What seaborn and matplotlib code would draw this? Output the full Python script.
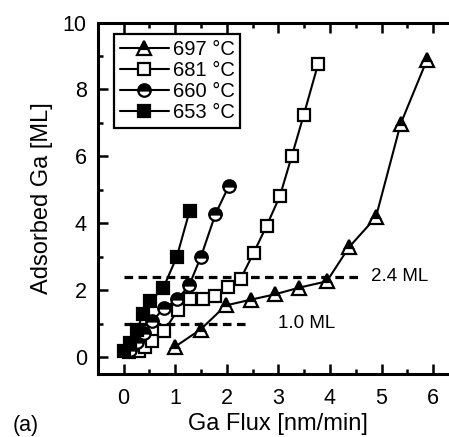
import matplotlib
matplotlib.use("Agg")
import matplotlib.pyplot as plt
from matplotlib.ticker import MultipleLocator
import seaborn as sns
import pandas as pd

# Adsorbed Ga coverage versus Ga flux at four substrate temperatures
labels = ["697 °C", "681 °C", "660 °C", "653 °C"]

flux_697 = [1.00, 1.49, 1.98, 2.46, 2.93, 3.40, 3.94, 4.37, 4.89, 5.37, 5.88]
ga_697 = [0.32, 0.83, 1.55, 1.72, 1.88, 2.08, 2.27, 3.29, 4.18, 6.97, 8.88]

flux_681 = [0.10, 0.30, 0.42, 0.55, 0.78, 1.05, 1.28, 1.54, 1.78, 2.02,
            2.27, 2.52, 2.77, 3.03, 3.26, 3.49, 3.77]
ga_681 = [0.15, 0.18, 0.30, 0.49, 0.78, 1.41, 1.73, 1.73, 1.83, 2.10,
          2.35, 3.12, 3.92, 4.82, 6.01, 7.23, 8.76]

flux_660 = [0.12, 0.25, 0.40, 0.55, 0.78, 1.04, 1.27, 1.50, 1.78, 2.04]
ga_660 = [0.22, 0.45, 0.72, 1.08, 1.46, 1.73, 2.15, 3.01, 4.28, 5.12]

flux_653 = [0.00, 0.12, 0.25, 0.38, 0.52, 0.77, 1.03, 1.28]
ga_653 = [0.18, 0.42, 0.82, 1.28, 1.68, 2.08, 3.00, 4.38]

# Horizontal reference levels (ML) and where their dashed lines end
ref_levels = [2.4, 1.0]
ref_ends = [4.55, 2.35]
ref_labels = ["2.4 ML", "1.0 ML"]
ref_label_x = [4.8, 3.0]

sns.set_style("ticks")
plt.rcParams["font.family"] = ["Liberation Sans", "DejaVu Sans"]
plt.rcParams["text.color"] = "black"
plt.rcParams["axes.labelcolor"] = "black"
plt.rcParams["xtick.color"] = "black"
plt.rcParams["ytick.color"] = "black"

fig = plt.figure(figsize=(4.49, 4.37), dpi=100)
ax = fig.add_axes([0.218, 0.144, 0.804, 0.8045])

styles = {
    "697 °C": dict(marker="^", ms=10, fillstyle="top", z=5),
    "681 °C": dict(marker="s", ms=8.5, fillstyle="none", z=3),
    "660 °C": dict(marker="o", ms=9, fillstyle="top", z=4),
    "653 °C": dict(marker="s", ms=8.5, fillstyle="full", z=6),
}
series = {
    "697 °C": (flux_697, ga_697),
    "681 °C": (flux_681, ga_681),
    "660 °C": (flux_660, ga_660),
    "653 °C": (flux_653, ga_653),
}

for lab in labels:
    x, y = series[lab]
    st = styles[lab]
    df = pd.DataFrame({"flux": x, "ga": y})
    kw = dict(marker=st["marker"], markersize=st["ms"], markeredgecolor="black",
              markeredgewidth=1.6, linewidth=1.5, color="black",
              zorder=st["z"], label=lab)
    if st["fillstyle"] == "top":
        kw.update(fillstyle="top", markerfacecolor="black", markerfacecoloralt="white")
    elif st["fillstyle"] == "none":
        kw.update(markerfacecolor="white")
    else:
        kw.update(markerfacecolor="black")
    sns.lineplot(data=df, x="flux", y="ga", ax=ax, sort=False, estimator=None, **kw)

for lvl, xe, txt, tx in zip(ref_levels, ref_ends, ref_labels, ref_label_x):
    ax.plot([0, xe], [lvl, lvl], color="black", linewidth=2.3,
            dashes=(2.7, 1.7), zorder=2)
    ax.text(tx, lvl, txt, fontsize=13.5, va="center", ha="left", zorder=7)

ax.set_xlim(-0.5, 6.5)
ax.set_ylim(-0.5, 10)
ax.xaxis.set_major_locator(MultipleLocator(1))
ax.xaxis.set_minor_locator(MultipleLocator(0.5))
ax.yaxis.set_major_locator(MultipleLocator(2))
ax.yaxis.set_minor_locator(MultipleLocator(1))
ax.tick_params(which="both", direction="in", top=True, right=True,
               color="black", labelsize=15.5, labelcolor="black")
ax.tick_params(which="major", length=7, width=1.8)
ax.tick_params(which="minor", length=3.5, width=1.8)
ax.tick_params(axis="x", which="major", pad=10)
ax.tick_params(axis="y", which="major", pad=8)
for sp in ax.spines.values():
    sp.set_visible(True)
    sp.set_linewidth(2.2)
    sp.set_color("black")

ax.set_xlabel("Ga Flux [nm/min]", fontsize=17, labelpad=3)
ax.set_ylabel("Adsorbed Ga [ML]", fontsize=17, labelpad=7)

handles, leg_labels = ax.get_legend_handles_labels()
order = [leg_labels.index(l) for l in labels]
leg = ax.legend([handles[i] for i in order], [leg_labels[i] for i in order],
                loc="upper left", bbox_to_anchor=(0.045, 0.968),
                fontsize=14.5, frameon=True, fancybox=False, numpoints=1,
                handlelength=2.4, handletextpad=0.2, labelspacing=0.1,
                borderpad=0.3, borderaxespad=0.0)
leg.get_frame().set_edgecolor("black")
leg.get_frame().set_linewidth(1.6)
leg.get_frame().set_alpha(1)

fig.text(0.029, 0.027, "(a)", fontsize=15.5, ha="left", va="center")

fig.savefig("out.png", dpi=100)
